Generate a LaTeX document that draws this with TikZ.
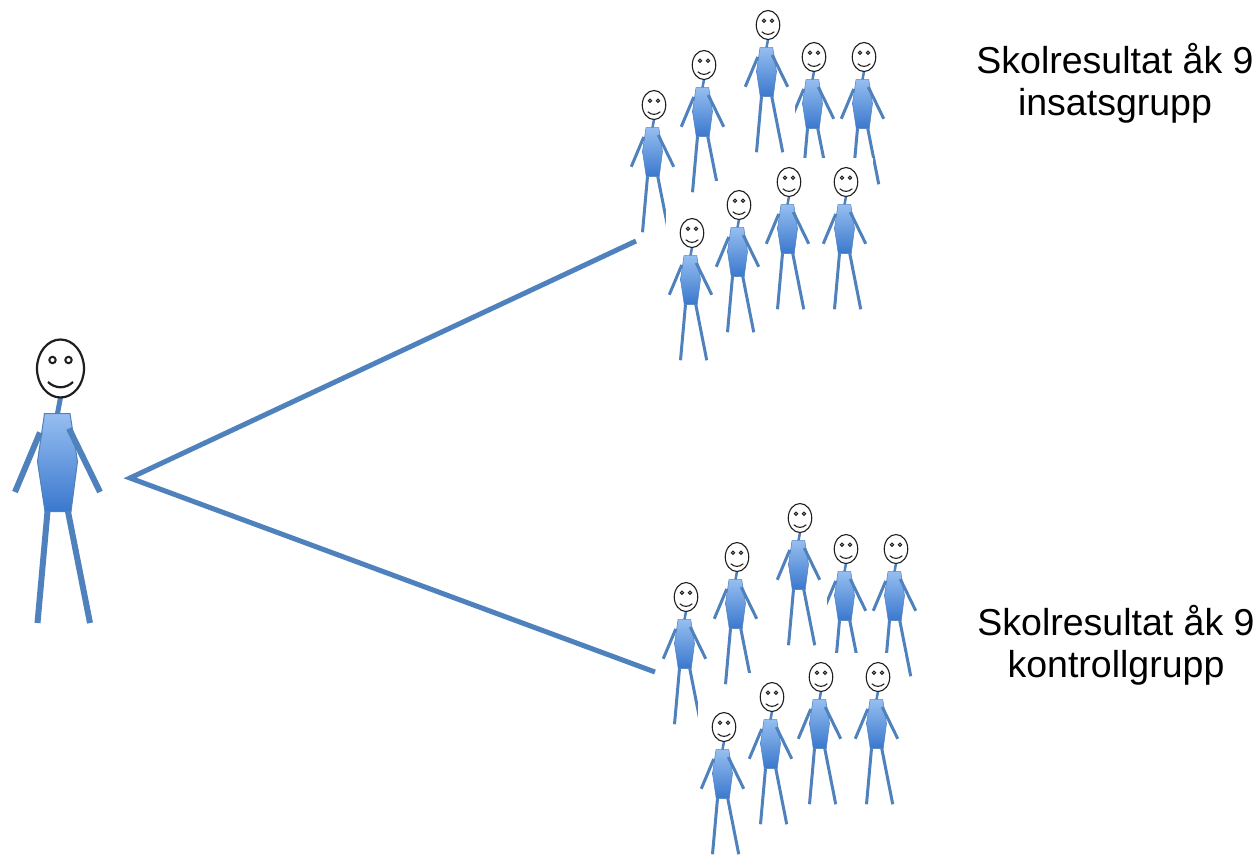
\documentclass[tikz,border=0pt]{standalone}
\usepackage{fontspec}
\setmainfont{Liberation Sans}
\definecolor{limb}{RGB}{79,129,189}
\definecolor{bodytop}{RGB}{150,190,240}
\definecolor{bodybot}{RGB}{58,120,205}
\definecolor{headline}{RGB}{30,30,30}
\tikzset{
  limbline/.style={draw=limb, line cap=butt},
  label/.style={font=\fontsize{37.5}{42}\selectfont, align=center, anchor=base, inner sep=0pt},
  connector/.style={draw=limb, line width=5pt}
}
% #1 x, #2 y (head centre, px), #3 scale
\newcommand\stickperson[3]{%
 \begin{scope}[shift={(#1,#2)}, scale=#3]
   \fill[white] (-52,-48) rectangle (54,264);
   % legs
   \draw[limbline, line width=#3*6pt] (-13,143) -- (-23,254.5);
   \draw[limbline, line width=#3*6pt] (7.5,143) -- (29.5,254.5);
   % neck
   \draw[limbline, line width=#3*5pt] (0,29) -- (-3,45);
   % body
   \shade[top color=bodytop, bottom color=bodybot, draw=limb, line width=#3*1pt]
     (-16,45) -- (9.5,45) -- (17,93) -- (10.5,143) -- (-15.5,143) -- (-23,93) -- cycle;
   % arms
   \draw[limbline, line width=#3*6pt] (-20.5,64) -- (-45.5,123.5);
   \draw[limbline, line width=#3*6pt] (8.5,60) -- (39.5,123.5);
   % head
   \filldraw[fill=white, draw=headline, line width=#3*2.2pt] (0,0) ellipse [x radius=23.5, y radius=29];
   \draw[headline, line width=#3*2pt] (-8,-8.5) circle [radius=3.2] (8,-8.5) circle [radius=3.2];
   \draw[headline, line width=#3*2.2pt] (-12.5,13.5) .. controls (-5,20.5) and (5,20.5) .. (12.5,13.5);
 \end{scope}}
\begin{document}
\begin{tikzpicture}[x=1pt, y=-1pt]
\useasboundingbox (0,0) rectangle (1259,855);
% connectors
\coordinate (root) at (130,478);
\coordinate (toI) at (636,241);
\coordinate (toK) at (655,672);
\draw[connector] (toI) -- (root) -- (toK);
% big person
\stickperson{60.5}{368.5}{1}
% insatsgrupp (top group)
\stickperson{654}{105}{0.5}
\stickperson{704}{65}{0.5}
\stickperson{814}{57}{0.5}
\stickperson{864}{57}{0.5}
\stickperson{768}{25}{0.5}
\stickperson{692}{233}{0.5}
\stickperson{739}{205}{0.5}
\stickperson{789}{182}{0.5}
\stickperson{846}{182}{0.5}
% kontrollgrupp (bottom group)
\stickperson{686}{597}{0.5}
\stickperson{737}{557}{0.5}
\stickperson{846}{549}{0.5}
\stickperson{896}{549}{0.5}
\stickperson{800}{518}{0.5}
\stickperson{724}{727}{0.5}
\stickperson{772}{697}{0.5}
\stickperson{821}{677}{0.5}
\stickperson{878}{677}{0.5}
% labels
\node[label] (ins) at (1115,115) {Skolresultat åk 9\\insatsgrupp};
\node[label] (kon) at (1116,677) {Skolresultat åk 9\\kontrollgrupp};
\end{tikzpicture}
\end{document}
